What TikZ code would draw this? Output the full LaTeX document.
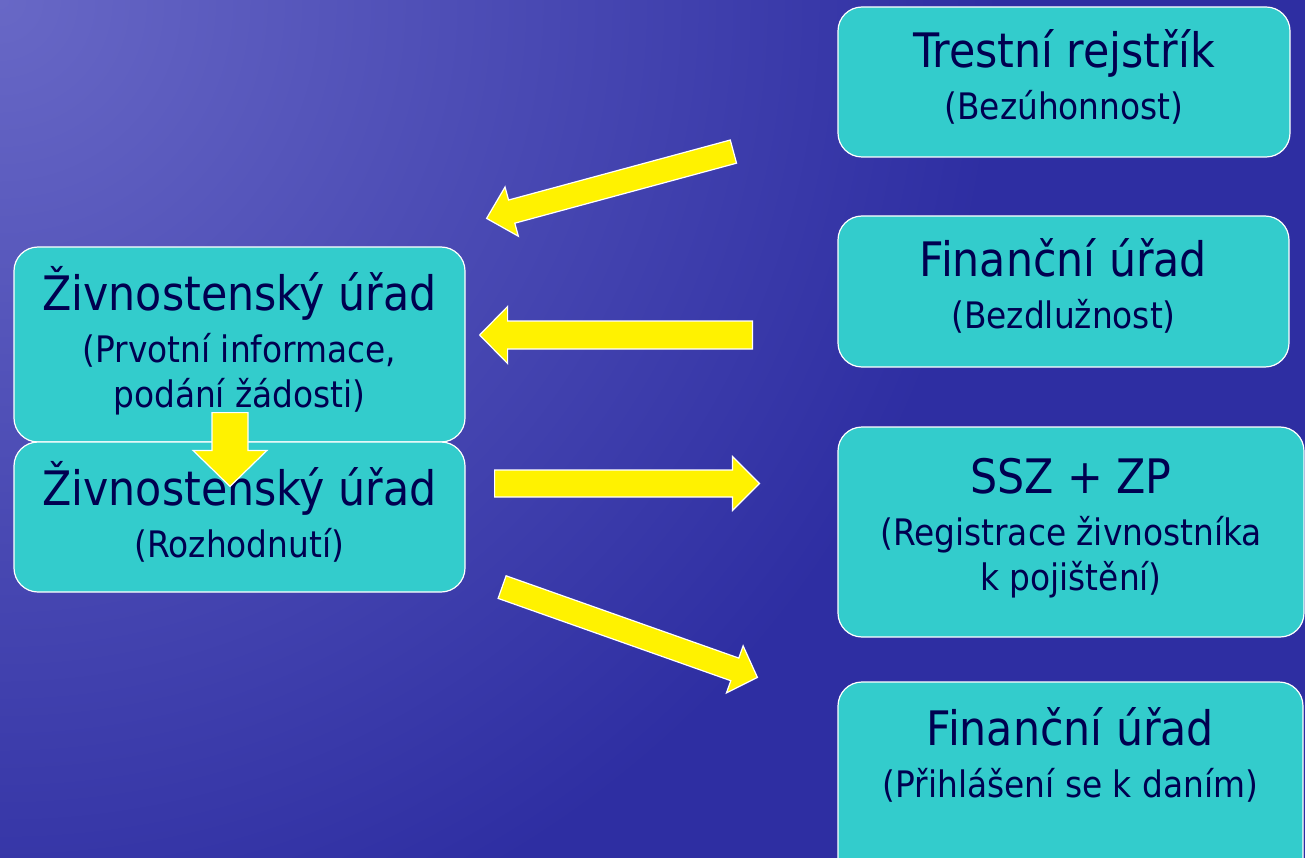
\documentclass[tikz,border=0pt]{standalone}
\usepackage{fontspec}
\setmainfont{DejaVu Sans Condensed}
\usetikzlibrary{calc, positioning}

\definecolor{bgblue}{RGB}{46,46,162}
\definecolor{bglight}{RGB}{104,104,198}
\definecolor{boxcyan}{RGB}{51,204,204}
\definecolor{navy}{RGB}{0,0,80}

\newcommand{\hd}[1]{{\fontsize{47.5}{47.5}\selectfont #1}}
% start, end, half shaft, half head, head length
\newcommand{\yarrow}[5]{%
  \coordinate (hb) at ($(#2)!#5!(#1)$);
  \path[yarr] ($(#1)!#3!90:(#2)$) -- ($(hb)!#3!90:(#2)$) -- ($(hb)!#4!90:(#2)$) -- (#2)
    -- ($(hb)!#4!-90:(#2)$) -- ($(hb)!#3!-90:(#2)$) -- ($(#1)!#3!-90:(#2)$) -- cycle;
}

\begin{document}
\begin{tikzpicture}
		[
			x=1pt, y=-1pt,
			box/.style={rectangle, rounded corners=24pt, draw=white, line width=1.2pt,
				fill=boxcyan, text=navy, align=center, inner sep=0pt, text depth=15pt,
				font=\fontsize{36.5}{42}\selectfont},
			yarr/.style={fill=yellow, draw=white, line width=1.2pt, line join=miter},
		]

		% Background
		\fill[bgblue] (0,0) rectangle (1305,858);
		\begin{scope}
			\clip (0,0) rectangle (1305,858);
			\shade[inner color=bglight, outer color=bgblue] (0,0) circle (1000);
		\end{scope}
		\useasboundingbox (0,0) rectangle (1305,858);

		% Boxes
		\node[box, minimum width=451pt, minimum height=195pt] (zu1) at (239.5,344.5)
			{\hd{Živnostenský úřad}\\[10pt](Prvotní informace,\\[3pt]podání žádosti)};
		\node[box, minimum width=451pt, minimum height=150pt] (zu2) at (239.5,517)
			{\hd{Živnostenský úřad}\\[10pt](Rozhodnutí)};
		\node[box, minimum width=452pt, minimum height=150pt] (tr) at (1064,82)
			{\hd{Trestní rejstřík}\\[10pt](Bezúhonnost)};
		\node[box, minimum width=451pt, minimum height=151pt] (fu1) at (1063.5,291.5)
			{\hd{Finanční úřad}\\[10pt](Bezdlužnost)};
		\node[box, minimum width=466pt, minimum height=210pt] (ssz) at (1071,532)
			{\hd{SSZ + ZP}\\[10pt](Registrace živnostníka\\[3pt]k pojištění)};
		\node[box, minimum width=465pt, minimum height=215pt,
			label={[anchor=north, yshift=-26pt, align=center, text=navy, inner sep=0pt,
				font=\fontsize{36.5}{42}\selectfont]north:{\hd{Finanční úřad}\\[10pt](Přihlášení se k daním)}}]
			(fu2) at (1070.5,789.5) {};

		% Arrows
		\coordinate (a1s) at ($(tr.south west)+(-104,-6)$);
		\coordinate (a1e) at ($(zu1.north east)+(21,-28)$);
		\coordinate (a2s) at ($(fu1.west)+(-85,43.5)$);
		\coordinate (a2e) at ($(zu1.east)+(14,-9.5)$);
		\coordinate (a3s) at ($(zu2.east)+(29,-33.5)$);
		\coordinate (a3e) at ($(ssz.west)+(-78,-48.5)$);
		\coordinate (a4s) at ($(zu2.south east)+(36.5,-5.5)$);
		\coordinate (a4e) at ($(fu2.north west)+(-80,-4)$);
		\coordinate (a5s) at ($(zu1.south)+(-9.5,-30)$);
		\coordinate (a5e) at ($(zu2.north)+(-9.5,45)$);

		\yarrow{a1s}{a1e}{12pt}{25.5pt}{26pt}
		\yarrow{a2s}{a2e}{14pt}{28.5pt}{28pt}
		\yarrow{a3s}{a3e}{13.5pt}{27pt}{27pt}
		\yarrow{a4s}{a4e}{12pt}{25pt}{24pt}
		\yarrow{a5s}{a5e}{18pt}{37pt}{36pt}

\end{tikzpicture}
\end{document}
